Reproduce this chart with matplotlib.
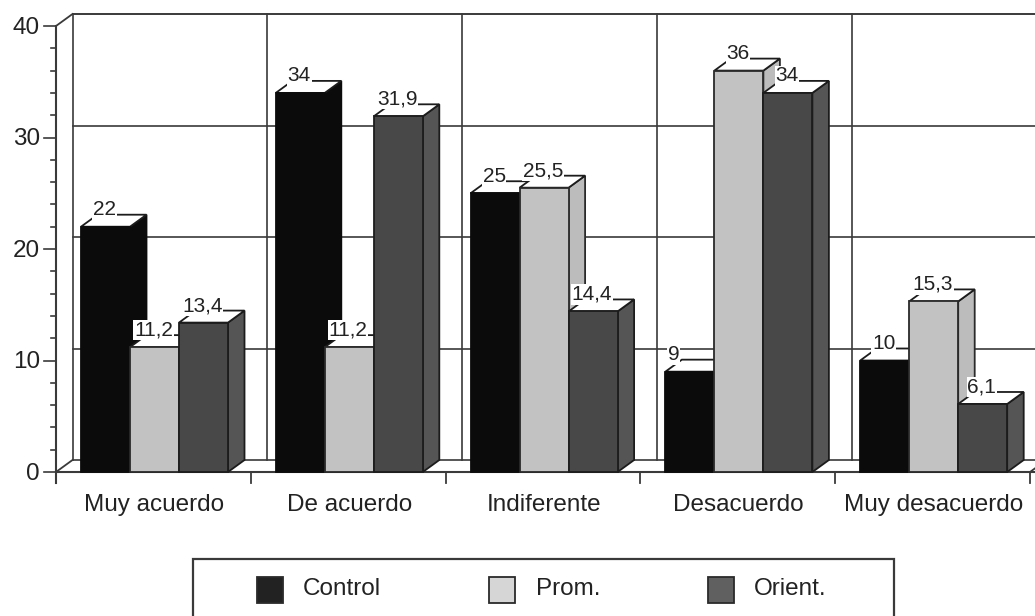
import matplotlib
matplotlib.use("Agg")
import matplotlib.pyplot as plt
from matplotlib.patches import Polygon, Rectangle

plt.rcParams['font.family'] = ['Liberation Sans', 'DejaVu Sans']

categories = ['Muy acuerdo', 'De acuerdo', 'Indiferente', 'Desacuerdo', 'Muy desacuerdo']
series_names = ['Control', 'Prom.', 'Orient.']
control = [22, 34, 25, 9, 10]
prom = [11.2, 11.2, 25.5, 36, 15.3]
orient = [13.4, 31.9, 14.4, 34, 6.1]
y_ticks = [0, 10, 20, 30, 40]

W, H = 1035, 616
GROUP_PX = 194.8
UNIT_PX = 11.15
X0_PX, Y0_PX = 56, 472

# bar colours: front, side, edge
front_cols = ['#0b0b0b', '#c2c2c2', '#484848']
side_cols = ['#0b0b0b', '#bcbcbc', '#555555']
edge_cols = ['#0b0b0b', '#2a2a2a', '#1c1c1c']
line = '#3a3a3a'
ink = '#222222'

fig = plt.figure(figsize=(W / 100, H / 100), dpi=100)
ax = fig.add_axes([0, 0, 1, 1])
ax.set_xlim(-X0_PX / GROUP_PX, (W - X0_PX) / GROUP_PX)
ax.set_ylim((Y0_PX - H) / UNIT_PX, Y0_PX / UNIT_PX)
ax.axis('off')

# depth of the fake 3d box, in data units
dx = 16.5 / GROUP_PX
dy = 12 / UNIT_PX
n = len(categories)
right = ax.get_xlim()[1]
ymax = y_ticks[-1]

# back wall and floor
ax.plot([dx, right], [ymax + dy, ymax + dy], color=line, lw=1.4, zorder=1)
for v in y_ticks[:-1]:
    ax.plot([dx, right], [v + dy, v + dy], color=line, lw=1.2, zorder=1)
for i in range(n):
    ax.plot([i + dx, i + dx], [dy, ymax + dy], color=line, lw=1.2, zorder=1)
ax.plot([0, dx], [0, dy], color=line, lw=1.3, zorder=1)
ax.plot([0, dx], [ymax, ymax + dy], color=line, lw=1.3, zorder=1)
ax.plot([n, n + dx], [0, dy], color=line, lw=1.3, zorder=1)

# axis lines and ticks
ax.plot([0, right], [0, 0], color=line, lw=1.5, zorder=1)
ax.plot([0, 0], [-11 / UNIT_PX, ymax], color=line, lw=1.5, zorder=1)
for v in range(0, ymax + 1, 2):
    length = 12 if v % 10 == 0 else 5
    ax.plot([-length / GROUP_PX, 0], [v, v], color=line, lw=1.2, zorder=1)
for i in range(1, n + 1):
    ax.plot([i, i], [-11 / UNIT_PX, 0], color=line, lw=1.3, zorder=1)
for v in y_ticks:
    ax.text(-16 / GROUP_PX, v - 1.5 / UNIT_PX, str(v), ha='right', va='center', fontsize=17.5, color=ink)
for i, name in enumerate(categories):
    ax.text(i + 0.5 + 1 / GROUP_PX, -33 / UNIT_PX, name, ha='center', va='center', fontsize=17.5, color=ink)

# bars, labels stay under the bars drawn after them
bar_w = 49 / GROUP_PX
start = 25 / GROUP_PX
z = 3
for s, vals in enumerate([control, prom, orient]):
    for i, v in enumerate(vals):
        x = i + start + s * bar_w
        top = [(x, v), (x + bar_w, v), (x + bar_w + dx, v + dy), (x + dx, v + dy)]
        side = [(x + bar_w, 0), (x + bar_w + dx, dy), (x + bar_w + dx, v + dy), (x + bar_w, v)]
        ax.add_patch(Polygon(side, facecolor=side_cols[s], edgecolor=edge_cols[s], lw=1.3, zorder=z))
        ax.add_patch(Polygon(top, facecolor='white', edgecolor='#1c1c1c', lw=1.3, zorder=z))
        ax.bar(x, v, width=bar_w, align='edge', color=front_cols[s], edgecolor=edge_cols[s], lw=1.3, zorder=z + 0.5)
        txt = str(v).replace('.', ',')
        # the 9 sits further left on the original
        shift = -16 if txt == '9' else -1
        ax.text(x + bar_w / 2 + shift / GROUP_PX, v + 17 / UNIT_PX, txt, ha='center', va='center', fontsize=15,
                color=ink, zorder=z + 0.7, bbox=dict(facecolor='white', edgecolor='none', pad=0.5))
        z += 1

# legend box, cut by the bottom of the image
leg = fig.add_axes([0, 0, 1, 1])
leg.set_xlim(0, W)
leg.set_ylim(H, 0)
leg.axis('off')
leg.patch.set_alpha(0)
leg.add_patch(Rectangle((193, 559), 701, 70, facecolor='white', edgecolor=line, lw=1.6))
square_x = [257, 489, 708]
text_x = [303, 536, 754]
legend_cols = ['#222222', '#d6d6d6', '#606060']
for s, name in enumerate(series_names):
    leg.add_patch(Rectangle((square_x[s], 577), 26, 26, facecolor=legend_cols[s], edgecolor='#2a2a2a', lw=1.3))
    leg.text(text_x[s], 589, name, ha='left', va='center', fontsize=17.5, color=ink)

fig.savefig('out.png', dpi=100)
